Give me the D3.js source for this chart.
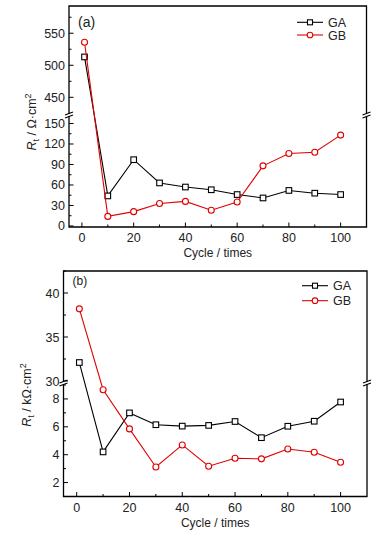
<!DOCTYPE html>
<html>
<head>
<meta charset="utf-8">
<style>
  body { margin: 0; background: #fff; }
  svg { display: block; font-family: "Liberation Sans", Arial, sans-serif; }
  .frame { fill: none; stroke: #000; stroke-width: 1.3px; }
  .tick { stroke: #000; stroke-width: 1px; }
  .lbl { font-size: 12.5px; fill: #222; }
</style>
</head>
<body>
<svg id="chart" width="389" height="536"></svg>
<script src="https://d3js.org/d3.v7.min.js"></script>
<script>
// data
var cycles = [1, 10, 20, 30, 40, 50, 60, 70, 80, 90, 100];
var gaA = [513, 44, 97, 63, 57, 53, 46, 41, 52, 48, 46];
var gbA = [536, 14, 21, 33, 36, 23, 35, 88, 106, 108, 133];
var gaB = [32.1, 4.2, 7.0, 6.15, 6.05, 6.1, 6.38, 5.22, 6.04, 6.4, 7.78];
var gbB = [38.2, 8.66, 5.85, 3.12, 4.7, 3.17, 3.74, 3.7, 4.41, 4.17, 3.46];
var seriesNames = ["GA", "GB"];
var xTicks = [0, 20, 40, 60, 80, 100];
var xMinor = [10, 30, 50, 70, 90];

var svg = d3.select("#chart");

function drawPanel(p) {
  var g = svg.append("g");
  var x = d3.scaleLinear().domain([-5, 110]).range([p.left, p.right]);
  var yUp = d3.scaleLinear().domain(p.upDomain).range([p.breakTop, p.top]);
  var yLo = d3.scaleLinear().domain(p.loDomain).range([p.bottom, p.breakBot]);
  function y(v) { return v > p.split ? yUp(v) : yLo(v); }

  // frame, left side split by the break
  g.append("path").attr("class", "frame")
    .attr("d", "M" + p.left + "," + (p.breakTop + 1) + "V" + p.top + "H" + p.right + "V" + (p.breakTop + 1));
  g.append("path").attr("class", "frame")
    .attr("d", "M" + p.left + "," + (p.breakBot - 1) + "V" + p.bottom + "H" + p.right + "V" + (p.breakBot - 1));

  // break marks
  [p.left, p.right].forEach(function(bx) {
    [p.breakTop + 0.5, p.breakBot - 0.5].forEach(function(by) {
      g.append("line").attr("class", "tick")
        .attr("x1", bx - 4).attr("y1", by + 1.5)
        .attr("x2", bx + 4).attr("y2", by - 1.5)
        .style("stroke-width", 1.2);
    });
  });

  // x ticks
  xTicks.forEach(function(t) {
    g.append("line").attr("class", "tick")
      .attr("x1", x(t)).attr("x2", x(t)).attr("y1", p.bottom).attr("y2", p.bottom - 4.5);
    g.append("text").attr("class", "lbl").attr("x", x(t)).attr("y", p.bottom + 15)
      .attr("text-anchor", "middle").text(t);
  });
  xMinor.forEach(function(t) {
    g.append("line").attr("class", "tick")
      .attr("x1", x(t)).attr("x2", x(t)).attr("y1", p.bottom).attr("y2", p.bottom - 2.5);
  });

  // y ticks
  function yTicks(scale, major, minor) {
    major.forEach(function(t) {
      g.append("line").attr("class", "tick")
        .attr("x1", p.left).attr("x2", p.left + 4.5).attr("y1", scale(t)).attr("y2", scale(t));
      g.append("text").attr("class", "lbl").attr("x", p.left - 4).attr("y", scale(t) + 4.5)
        .attr("text-anchor", "end").text(t);
    });
    minor.forEach(function(t) {
      g.append("line").attr("class", "tick")
        .attr("x1", p.left).attr("x2", p.left + 2.5).attr("y1", scale(t)).attr("y2", scale(t));
    });
  }
  yTicks(yUp, p.upTicks, p.upMinor);
  yTicks(yLo, p.loTicks, p.loMinor);

  // axis titles
  g.append("text").attr("class", "lbl").attr("x", (p.left + p.right) / 2).attr("y", p.bottom + 30)
    .attr("text-anchor", "middle").style("font-size", "12px").text("Cycle / times");
  var yl = g.append("text").attr("class", "lbl").style("font-size", "12.5px")
    .attr("transform", "translate(" + p.ylabX + "," + p.ylabY + ") rotate(-90)")
    .attr("text-anchor", "middle");
  yl.append("tspan").style("font-style", "italic").text("R");
  yl.append("tspan").attr("dy", 3).style("font-size", "9px").text("t");
  yl.append("tspan").attr("dy", -3).text(" / " + p.unit + "\u03A9\u00B7cm");
  yl.append("tspan").attr("dy", -5).style("font-size", "9px").text("2");

  g.append("text").attr("x", p.tagX).attr("y", p.tagY).style("font-size", p.tagSize)
    .style("fill", "#222").text(p.tag);

  // series
  var line = d3.line().x(function(d) { return x(d[0]); }).y(function(d) { return y(d[1]); });
  var colors = ["#000", "#e00000"];
  [p.ga, p.gb].forEach(function(vals, k) {
    var pts = cycles.map(function(c, i) { return [c, vals[i]]; });
    g.append("path").attr("d", line(pts)).attr("fill", "none")
      .attr("stroke", colors[k]).attr("stroke-width", 1.1);
    pts.forEach(function(d) {
      if (k === 0) {
        g.append("rect").attr("x", x(d[0]) - 2.8).attr("y", y(d[1]) - 2.8).attr("width", 5.6).attr("height", 5.6)
          .attr("fill", "#fff").attr("stroke", colors[k]).attr("stroke-width", 1.1);
      } else {
        g.append("circle").attr("cx", x(d[0])).attr("cy", y(d[1])).attr("r", 3)
          .attr("fill", "#fff").attr("stroke", colors[k]).attr("stroke-width", 1.1);
      }
    });
  });

  // legend
  seriesNames.forEach(function(name, k) {
    var ly = p.legY + k * p.legGap;
    var lx = p.legX;
    g.append("line").attr("x1", lx).attr("x2", lx + 26).attr("y1", ly).attr("y2", ly)
      .attr("stroke", colors[k]).attr("stroke-width", 1.1);
    if (k === 0) {
      g.append("rect").attr("x", lx + 10.5).attr("y", ly - 2.5).attr("width", 5).attr("height", 5)
        .attr("fill", "#fff").attr("stroke", colors[k]).attr("stroke-width", 1.1);
    } else {
      g.append("circle").attr("cx", lx + 13).attr("cy", ly).attr("r", 2.8)
        .attr("fill", "#fff").attr("stroke", colors[k]).attr("stroke-width", 1.1);
    }
    g.append("text").attr("class", "lbl").style("font-size", "12.5px")
      .attr("x", lx + 31).attr("y", ly + 4.5).text(name);
  });
}

drawPanel({
  left: 69, right: 366.5, top: 6, bottom: 227, breakTop: 113, breakBot: 117,
  upDomain: [425.5, 592.5], loDomain: [-1.5, 159.5], split: 300,
  upTicks: [450, 500, 550], upMinor: [475, 525, 575],
  loTicks: [0, 30, 60, 90, 120, 150], loMinor: [15, 45, 75, 105, 135],
  ga: gaA, gb: gbA, unit: "", ylabX: 36, ylabY: 122,
  tag: "(a)", tagX: 78, tagY: 27, tagSize: "14px", legX: 297, legY: 22.3, legGap: 12.7
});

drawPanel({
  left: 63.5, right: 367, top: 271, bottom: 496.5, breakTop: 381, breakBot: 385,
  upDomain: [30, 42.5], loDomain: [1, 9], split: 20,
  upTicks: [30, 35, 40], upMinor: [32.5, 37.5, 42.5],
  loTicks: [2, 4, 6, 8], loMinor: [1, 3, 5, 7, 9],
  ga: gaB, gb: gbB, unit: "k", ylabX: 31, ylabY: 395,
  tag: "(b)", tagX: 72.5, tagY: 285, tagSize: "12px", legX: 302, legY: 285.7, legGap: 15
});
</script>
</body>
</html>
